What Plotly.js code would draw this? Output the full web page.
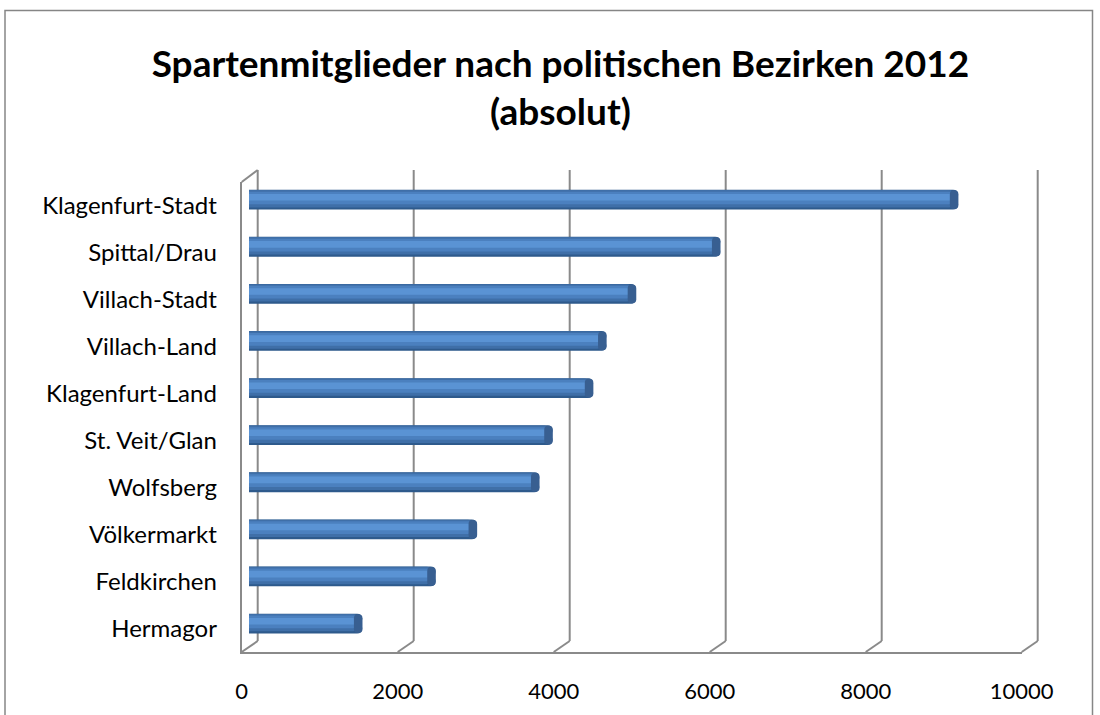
<!DOCTYPE html>
<html>
<head>
<meta charset="utf-8">
<script src="https://cdn.plot.ly/plotly-3.0.1.min.js"></script>
<style>html,body{margin:0;padding:0;background:#fff;}#chart{width:1100px;height:715px;}</style>
</head>
<body>
<div id="chart"></div>
<script>
// ---- data ----
const districts = ["Klagenfurt-Stadt","Spittal/Drau","Villach-Stadt","Villach-Land","Klagenfurt-Land","St. Veit/Glan","Wolfsberg","Völkermarkt","Feldkirchen","Hermagor"];
const members = [9040, 5990, 4910, 4530, 4360, 3840, 3670, 2870, 2340, 1400];
const xTicks = [0, 2000, 4000, 6000, 8000, 10000];
const xTickText = ["0", "2000", "4000", "6000", "8000", "10000"];
const titleText = "Spartenmitglieder nach politischen Bezirken 2012<br>(absolut)";

// ---- layout geometry (pixels in 1100x715 page) ----
const W = 1100, H = 715;
const px = v => v / W, py = v => 1 - v / H;
const FRONT = {x0: 241.7, x1: 1021.7, yTop: 182, yBot: 652};
const MID   = {x0: 249,   x1: 1029,   yTop: 176.1, yBot: 647.1};
const BACK  = {x0: 257.7, x1: 1037.7, yTop: 170, yBot: 641};
const XMAX = 10000;
const gridColor = "#8a8a8a";
const font = "Lato, 'Open Sans', sans-serif";

// helper axis spanning the whole page, with the front-plane scale
const unitPerPx = XMAX / (FRONT.x1 - FRONT.x0);
const helperRange = [-FRONT.x0 * unitPerPx, (W - FRONT.x0) * unitPerPx];
const dX = BACK.x0 - FRONT.x0;

// cylinder-like bar layers (darker edge to lighter highlight)
const layers = [
  {w: 0.42, off: -0.21, c: "#2E5A8C"},
  {w: 0.37, off: -0.205, c: "#3F6FA8"},
  {w: 0.27, off: -0.17, c: "#4B80BF"},
  {w: 0.14, off: -0.12, c: "#5A93D4"}
];
const traces = layers.map(L => ({
  type: "bar", orientation: "h",
  x: members, y: districts,
  xaxis: "x2", yaxis: "y2",
  width: L.w, offset: L.off,
  marker: {color: L.c, cornerradius: 5, line: {width: 0}},
  hoverinfo: "x+y", showlegend: false
}));
// end-face of each cylinder (dark ellipse at the value end)
const capLen = 110;
traces.push({
  type: "bar", orientation: "h",
  x: members.map(() => capLen), base: members.map(v => v - capLen / 2), y: districts,
  xaxis: "x2", yaxis: "y2", width: 0.40, offset: -0.20,
  marker: {color: "#385F91", cornerradius: "50%", line: {width: 0}},
  hoverinfo: "skip", showlegend: false
});
// invisible trace to define front (label) axes
traces.push({type: "scatter", x: [0], y: [districts[0]], xaxis: "x", yaxis: "y",
  mode: "markers", marker: {opacity: 0}, hoverinfo: "skip", showlegend: false});
// invisible trace for helper axes
traces.push({type: "scatter", x: [0], y: [0], xaxis: "x4", yaxis: "y4",
  mode: "markers", marker: {opacity: 0}, hoverinfo: "skip", showlegend: false});

const shapes = [];
const lineStyle = {color: gridColor, width: 2};
xTicks.forEach(t => {
  // back-wall vertical gridline
  shapes.push({type: "line", xref: "x4", yref: "paper", xsizemode: "pixel", xanchor: t,
    x0: dX, x1: dX, y0: py(BACK.yBot), y1: py(BACK.yTop), line: lineStyle, layer: "below"});
  // floor diagonal from front floor line to back wall
  shapes.push({type: "line", xref: "x4", yref: "paper", xsizemode: "pixel", xanchor: t,
    x0: 0, x1: dX, y0: py(FRONT.yBot), y1: py(BACK.yBot), line: lineStyle, layer: "below"});
});
// top-left wall diagonal
shapes.push({type: "line", xref: "x4", yref: "paper", xsizemode: "pixel", xanchor: xTicks[0],
  x0: 0, x1: dX, y0: py(FRONT.yTop), y1: py(BACK.yTop), line: lineStyle, layer: "below"});
// outer chart border
shapes.push({type: "rect", xref: "paper", yref: "paper",
  x0: px(5), x1: px(1092.5), y0: -0.1, y1: py(10.5),
  line: {color: "#868686", width: 1.5}, fillcolor: "rgba(0,0,0,0)", layer: "below"});

const layout = {
  width: W, height: H,
  margin: {l: 0, r: 0, t: 0, b: 0},
  paper_bgcolor: "#ffffff", plot_bgcolor: "rgba(0,0,0,0)",
  barmode: "overlay",
  showlegend: false,
  font: {family: font, color: "#000"},
  title: {text: titleText, x: 0.5095, xanchor: "center", y: py(77), yanchor: "middle",
    font: {family: font, size: 37, color: "#000", weight: "bold"}},
  // front plane: labels and floor line
  xaxis: {domain: [px(FRONT.x0), px(FRONT.x1)], range: [0, XMAX], tickvals: xTicks, ticktext: xTickText,
    showgrid: false, zeroline: false, showline: true, linecolor: gridColor, linewidth: 2,
    ticks: "outside", ticklen: 19, tickcolor: "rgba(0,0,0,0)",
    tickfont: {family: font, size: 22, color: "#000"}, anchor: "y", fixedrange: true},
  yaxis: {domain: [py(FRONT.yBot), py(FRONT.yTop)], type: "category", categoryarray: districts,
    range: [districts.length - 0.5, -0.5], showgrid: false, zeroline: false,
    showline: true, linecolor: gridColor, linewidth: 2,
    ticks: "outside", ticklen: 18, tickcolor: "rgba(0,0,0,0)",
    tickfont: {family: font, size: 24, color: "#000"}, anchor: "x", fixedrange: true},
  // bar plane
  xaxis2: {domain: [px(MID.x0), px(MID.x1)], range: [0, XMAX], visible: false, anchor: "y2", fixedrange: true},
  yaxis2: {domain: [py(MID.yBot), py(MID.yTop)], type: "category", categoryarray: districts,
    range: [districts.length - 0.5, -0.5], visible: false, anchor: "x2", fixedrange: true},
  // helper axis covering the whole page, front-plane scale
  xaxis4: {domain: [0, 1], range: helperRange, visible: false, anchor: "y4", fixedrange: true},
  yaxis4: {domain: [0, 1], range: [0, 1], visible: false, anchor: "x4", fixedrange: true},
  shapes: shapes
};

Plotly.newPlot("chart", traces, layout, {displayModeBar: false, staticPlot: true});
</script>
</body>
</html>
